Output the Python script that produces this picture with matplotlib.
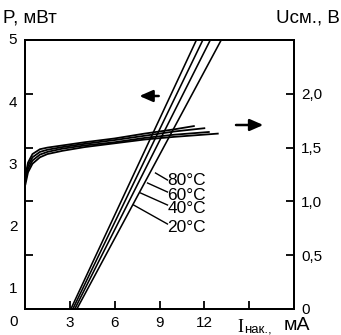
import matplotlib
matplotlib.use("Agg")
import matplotlib.pyplot as plt
import numpy as np

plt.rcParams['font.family'] = ['Liberation Sans', 'DejaVu Sans']

# ---- data ----
temps = ["20°C", "40°C", "60°C", "80°C"]
# P-I lines (left axis, mW): current (mA) at P=0 and P=5
p_current = [[3.07, 11.47], [3.20, 11.9], [3.33, 12.4], [3.47, 13.13]]
p_power = [0.0, 5.0]
# U-I curves (right axis, V)
u_current = [
    [0.03, 0.2, 0.5, 1.0, 1.5, 2.5, 4, 6, 8, 10, 11.3],
    [0.03, 0.2, 0.5, 1.0, 1.5, 2.5, 4, 6, 8, 10, 12.0],
    [0.03, 0.2, 0.5, 1.0, 1.5, 2.5, 4, 6, 8, 10, 12.3],
    [0.03, 0.2, 0.5, 1.0, 1.5, 2.5, 4, 6, 8, 10, 12.9],
]
u_voltage = [
    [1.24, 1.36, 1.44, 1.485, 1.50, 1.52, 1.55, 1.585, 1.63, 1.67, 1.70],
    [1.21, 1.33, 1.41, 1.46, 1.48, 1.505, 1.535, 1.57, 1.61, 1.65, 1.68],
    [1.19, 1.30, 1.38, 1.435, 1.46, 1.49, 1.52, 1.55, 1.59, 1.62, 1.645],
    [1.16, 1.27, 1.35, 1.41, 1.44, 1.47, 1.505, 1.54, 1.575, 1.60, 1.63],
]
x_ticks = [3, 6, 9, 12, 15]
x_labels = ["3", "6", "9", "12", ""]
left_labels = ["5", "4", "3", "2", "1"]
right_ticks = [0, 0.5, 1.0, 1.5, 2.0]
right_labels = ["0", "0,5", "1,0", "1,5", "2,0"]

W, H = 341, 335
fig = plt.figure(figsize=(W / 100, H / 100), dpi=100)
ax = fig.add_axes([25 / W, 1 - 309 / H, 269 / W, 269 / H])
ax2 = ax.twinx()

ax.set_xlim(0, 18)
ax.set_ylim(0, 5)
ax2.set_ylim(0, 2.5)

for i in range(4):
    ax.plot(p_current[i], p_power, color='black', lw=1.15, solid_capstyle='butt')
    ax2.plot(u_current[i], u_voltage[i], color='black', lw=1.3)

# ticks
ax.set_xticks(x_ticks)
ax.set_xticklabels(x_labels)
ax.set_yticks([1, 2, 3, 4])
ax.set_yticklabels([])
ax2.set_yticks(right_ticks)
ax2.set_yticklabels(right_labels)
ax.tick_params(axis='both', direction='in', length=6, width=1.3, labelsize=11, pad=5)
ax.tick_params(axis='x', pad=5)
ax2.tick_params(axis='y', direction='in', length=6, width=1.3, labelsize=11, pad=5)
for a in (ax, ax2):
    for s in a.spines.values():
        s.set_linewidth(1.4)

# left labels (offset from ticks, as in the original)
for lab, py in zip(left_labels, [40, 103, 165, 227, 289]):
    fig.text(13 / W, 1 - py / H, lab, ha='center', va='center', fontsize=11)
fig.text(14 / W, 1 - 322 / H, "0", ha='center', va='center', fontsize=11)

# axis titles
fig.text(3 / W, 1 - 18 / H, "P, мВт", ha='left', va='center', fontsize=13.5)
fig.text(340 / W, 1 - 18 / H, "Uсм., В", ha='right', va='center', fontsize=13.5)
fig.text(237 / W, 1 - 327 / H, "I", ha='left', va='center', fontsize=13,
         family='Liberation Serif')
fig.text(244 / W, 1 - 329 / H, "нак.,", ha='left', va='center', fontsize=9.5)
fig.text(284 / W, 1 - 326 / H, "мА", ha='left', va='center', fontsize=14)

def d(px, py):
    return ((px - 24) / 15, (309 - py) / 53.8)

# arrows
arrow = dict(arrowstyle='-|>,head_length=0.8,head_width=0.35', color='black', lw=1.8)
ax.annotate("", xy=d(136, 96), xytext=d(161, 96), arrowprops=arrow)
ax.annotate("", xy=d(266, 125), xytext=d(233, 125), arrowprops=arrow)

# temperature labels with leaders
leaders = {"80°C": ((155, 173), (167, 180), 181),
           "60°C": ((147, 183), (167, 192), 195),
           "40°C": ((140, 193), (167, 205), 209),
           "20°C": ((133, 205), (167, 224), 228)}
for t, (s, e, ty) in leaders.items():
    ax.plot(*zip(d(*s), d(*e)), color='black', lw=1.0)
    ax.text(*d(167, ty), t, ha='left', va='center', fontsize=12.5)

fig.savefig("out.png", dpi=100)
